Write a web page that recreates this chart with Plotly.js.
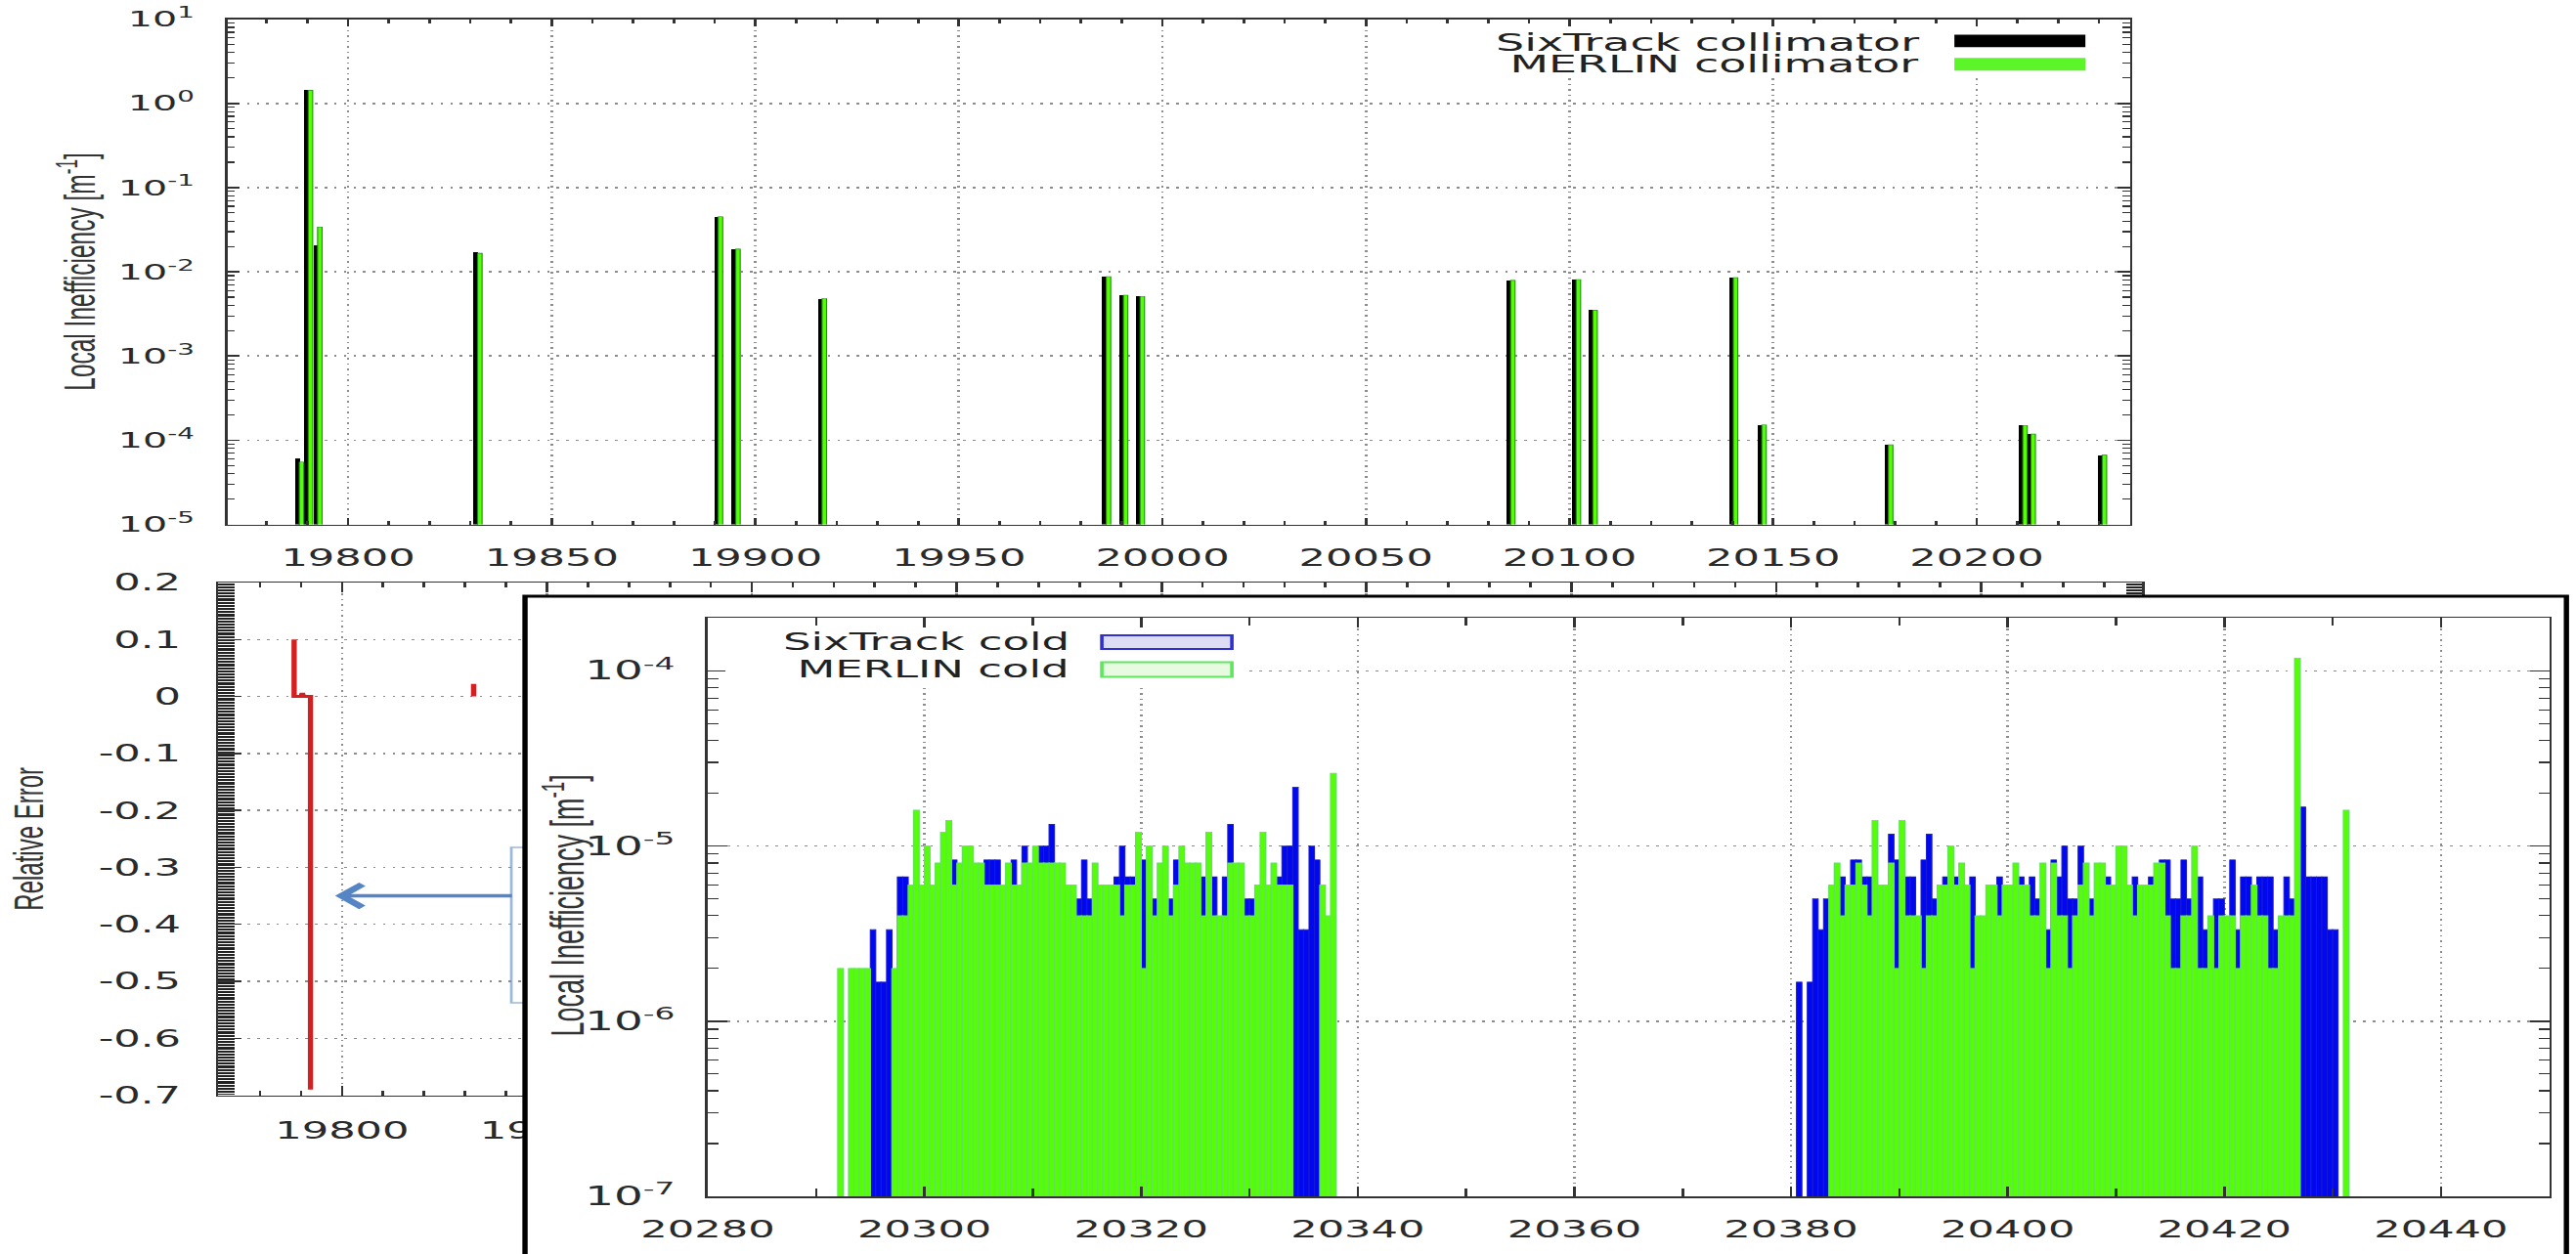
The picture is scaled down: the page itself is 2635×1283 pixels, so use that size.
<!DOCTYPE html>
<html>
<head>
<meta charset="utf-8">
<script src="https://cdn.plot.ly/plotly-3.0.1.min.js"></script>
<style>
html,body{margin:0;padding:0;background:#fff;overflow:hidden;}
#wrap{width:2635px;height:1283px;overflow:hidden;position:relative;background:#fff;}
#chart{width:1464px;height:1283px;transform:scaleX(1.8);transform-origin:0 0;}
</style>
</head>
<body>
<div id="wrap"><div id="chart"></div></div>
<script>
// ---------------- DATA ----------------
// Top panel: collimator local inefficiency (per collimator position, m)
const collimatorS = [19788.0, 19790.2, 19792.5, 19831.8, 19890.9, 19895.2, 19916.4, 19986.2, 19990.4, 19994.5,
                     20085.5, 20101.6, 20105.7, 20140.2, 20147.2, 20178.3, 20211.3, 20213.3, 20230.8];
const sixtrackCollimator = [6.1e-5, 1.43, 2.04e-2, 1.7e-2, 4.5e-2, 1.86e-2, 4.8e-3, 8.75e-3, 5.27e-3, 5.1e-3,
                            7.9e-3, 8.1e-3, 3.5e-3, 8.5e-3, 1.52e-4, 8.8e-5, 1.5e-4, 1.18e-4, 6.65e-5];
const merlinCollimator   = [5.5e-5, 1.43, 3.4e-2, 1.66e-2, 4.5e-2, 1.86e-2, 4.8e-3, 8.75e-3, 5.27e-3, 5.1e-3,
                            7.9e-3, 8.1e-3, 3.5e-3, 8.5e-3, 1.52e-4, 8.8e-5, 1.5e-4, 1.18e-4, 6.65e-5];

// Middle panel: relative error (steps)
const relErrS = [19788.3, 19788.3, 19790.0, 19790.3, 19790.6, 19792.3, 19792.3, null, 19832.1, 19832.1];
const relErr  = [0.1, 0, 0, 0.006, 0, 0, -0.69, null, 0, 0.022];

// Inset: cold losses, first cluster (bin centres, m)
const coldS1 = [
 20292.25, 20292.75, 20293.25, 20293.75, 20294.25, 20294.75, 20295.25, 20295.75, 20296.25, 20296.75,
 20297.25, 20297.75, 20298.25, 20298.75, 20299.25, 20299.75, 20300.25, 20300.75, 20301.25, 20301.75,
 20302.25, 20302.75, 20303.25, 20303.75, 20304.25, 20304.75, 20305.25, 20305.75, 20306.25, 20306.75,
 20307.25, 20307.75, 20308.25, 20308.75, 20309.25, 20309.75, 20310.25, 20310.75, 20311.25, 20311.75,
 20312.25, 20312.75, 20313.25, 20313.75, 20314.25, 20314.75, 20315.25, 20315.75, 20316.25, 20316.75,
 20317.25, 20317.75, 20318.25, 20318.75, 20319.25, 20319.75, 20320.25, 20320.75, 20321.25, 20321.75,
 20322.25, 20322.75, 20323.25, 20323.75, 20324.25, 20324.75, 20325.25, 20325.75, 20326.25, 20326.75,
 20327.25, 20327.75, 20328.25, 20328.75, 20329.25, 20329.75, 20330.25, 20330.75, 20331.25, 20331.75,
 20332.25, 20332.75, 20333.25, 20333.75, 20334.25, 20334.75, 20335.25, 20335.75, 20336.25, 20336.75,
 20337.25, 20337.75];
const merlinCold1 = [
 2e-6, null, 2e-6, 2e-6, 2e-6, 2e-6, null, null, null, null,
 2e-6, 4e-6, 4e-6, 6e-6, 16e-6, 6e-6, 10e-6, 6e-6, 8e-6, 12e-6,
 14e-6, 6e-6, 8e-6, 10e-6, 10e-6, 8e-6, 8e-6, 6e-6, 6e-6, 6e-6,
 6e-6, 8e-6, 6e-6, 6e-6, 8e-6, 8e-6, 10e-6, 8e-6, 8e-6, 8e-6,
 8e-6, 8e-6, 6e-6, 6e-6, 4e-6, 4e-6, 4e-6, 8e-6, 6e-6, 6e-6,
 6e-6, 6e-6, 4e-6, 6e-6, 6e-6, 12e-6, 2e-6, 10e-6, 4e-6, 8e-6,
 10e-6, 4e-6, 6e-6, 10e-6, 8e-6, 8e-6, 8e-6, 4e-6, 12e-6, 4e-6,
 4e-6, 4e-6, 8e-6, 8e-6, 8e-6, 4e-6, 4e-6, 6e-6, 12e-6, 6e-6,
 8e-6, 6e-6, 6e-6, 6e-6, null, null, null, null, null, 6e-6,
 4e-6, 26e-6];
const sixtrackCold1 = [
 null, null, null, null, null, null, 3.33e-6, 1.67e-6, 1.67e-6, 3.33e-6,
 null, 6.67e-6, 6.67e-6, null, null, null, null, null, null, null,
 null, 8.33e-6, null, null, null, null, null, 8.33e-6, 8.33e-6, 8.33e-6,
 null, null, 8.33e-6, null, 10e-6, null, null, 10e-6, 10e-6, 13.3e-6,
 null, null, null, null, 5e-6, 8.33e-6, 5e-6, null, null, null,
 null, 6.67e-6, 10e-6, 6.67e-6, 6.67e-6, null, 8.33e-6, null, 5e-6, null,
 null, 5e-6, 8.33e-6, null, null, null, null, 6.67e-6, null, 6.67e-6,
 null, 6.67e-6, 13.3e-6, null, null, 5e-6, 5e-6, null, null, null,
 null, 6.67e-6, 10e-6, 10e-6, 21.7e-6, 3.33e-6, 3.33e-6, 10e-6, 8.33e-6, null,
 null, null];

// Inset: cold losses, second cluster
const coldS2 = [
 20380.75, 20381.25, 20381.75, 20382.25, 20382.75, 20383.25, 20383.75, 20384.25, 20384.75, 20385.25,
 20385.75, 20386.25, 20386.75, 20387.25, 20387.75, 20388.25, 20388.75, 20389.25, 20389.75, 20390.25,
 20390.75, 20391.25, 20391.75, 20392.25, 20392.75, 20393.25, 20393.75, 20394.25, 20394.75, 20395.25,
 20395.75, 20396.25, 20396.75, 20397.25, 20397.75, 20398.25, 20398.75, 20399.25, 20399.75, 20400.25,
 20400.75, 20401.25, 20401.75, 20402.25, 20402.75, 20403.25, 20403.75, 20404.25, 20404.75, 20405.25,
 20405.75, 20406.25, 20406.75, 20407.25, 20407.75, 20408.25, 20408.75, 20409.25, 20409.75, 20410.25,
 20410.75, 20411.25, 20411.75, 20412.25, 20412.75, 20413.25, 20413.75, 20414.25, 20414.75, 20415.25,
 20415.75, 20416.25, 20416.75, 20417.25, 20417.75, 20418.25, 20418.75, 20419.25, 20419.75, 20420.25,
 20420.75, 20421.25, 20421.75, 20422.25, 20422.75, 20423.25, 20423.75, 20424.25, 20424.75, 20425.25,
 20425.75, 20426.25, 20426.75, 20427.25, 20427.75, 20428.25, 20428.75, 20429.25, 20429.75, 20430.25,
 20430.75, 20431.25];
const merlinCold2 = [
 null, null, null, null, null, null, 6e-6, 8e-6, 4e-6, 6e-6,
 6e-6, 8e-6, 6e-6, 4e-6, 14e-6, 6e-6, 6e-6, 8e-6, 2e-6, 14e-6,
 4e-6, 4e-6, 4e-6, 2e-6, 4e-6, 4e-6, 6e-6, 6e-6, 10e-6, 6e-6,
 8e-6, 6e-6, 2e-6, 4e-6, 4e-6, 6e-6, 6e-6, 4e-6, 6e-6, 6e-6,
 8e-6, 6e-6, 6e-6, 4e-6, 4e-6, 8e-6, 2e-6, 8e-6, 4e-6, 4e-6,
 2e-6, 4e-6, 6e-6, 8e-6, 4e-6, 8e-6, 8e-6, 6e-6, 6e-6, 10e-6,
 10e-6, 6e-6, 4e-6, 6e-6, 6e-6, 6e-6, 8e-6, 8e-6, 4e-6, 2e-6,
 2e-6, 4e-6, 4e-6, 10e-6, 2e-6, 2e-6, 4e-6, 2e-6, 4e-6, 4e-6,
 4e-6, 2e-6, 4e-6, 4e-6, 6e-6, 4e-6, 4e-6, 2e-6, 2e-6, 4e-6,
 4e-6, 4e-6, 118e-6, null, null, null, null, null, null, null,
 null, 16e-6];
const sixtrackCold2 = [
 1.67e-6, null, 1.67e-6, 5e-6, 3.33e-6, 5e-6, null, null, 6.67e-6, null,
 8.33e-6, 8.33e-6, 6.67e-6, 6.67e-6, null, null, null, 11.7e-6, 8.33e-6, null,
 6.67e-6, 6.67e-6, null, 8.33e-6, 11.7e-6, 5e-6, null, 6.67e-6, null, 6.67e-6,
 null, null, 6.67e-6, null, null, null, null, 6.67e-6, null, null,
 null, 6.67e-6, null, 6.67e-6, 5e-6, null, 3.33e-6, 8.33e-6, 6.67e-6, 10e-6,
 5e-6, 5e-6, 10e-6, null, 5e-6, null, null, 6.67e-6, null, null,
 null, null, 6.67e-6, null, null, 6.67e-6, null, 8.33e-6, 8.33e-6, 5e-6,
 5e-6, 8.33e-6, 5e-6, null, 6.67e-6, 3.33e-6, null, 5e-6, 5e-6, null,
 8.33e-6, 3.33e-6, 6.67e-6, 6.67e-6, null, 6.67e-6, 6.67e-6, 6.67e-6, 3.33e-6, null,
 6.67e-6, 5e-6, null, 16.7e-6, 6.67e-6, 6.67e-6, 6.67e-6, 6.67e-6, 3.33e-6, 3.33e-6,
 null, null];

// Tick labels
const topDecades = [1e-5, 1e-4, 1e-3, 1e-2, 1e-1, 1, 10];
const topDecadeLabels = ['10<sup>-5</sup>','10<sup>-4</sup>','10<sup>-3</sup>','10<sup>-2</sup>','10<sup>-1</sup>','10<sup>0</sup>','10<sup>1</sup>'];
const relErrTicks = [0.2, 0.1, 0, -0.1, -0.2, -0.3, -0.4, -0.5, -0.6, -0.7];
const relErrLabels = ['0.2','0.1','0','-0.1','-0.2','-0.3','-0.4','-0.5','-0.6','-0.7'];
const insetDecades = [1e-7, 1e-6, 1e-5, 1e-4];
const insetDecadeLabels = ['10<sup>-7</sup>','10<sup>-6</sup>','10<sup>-5</sup>','10<sup>-4</sup>'];

const names = {
  sixColl: 'SixTrack collimator', merColl: 'MERLIN collimator',
  sixCold: 'SixTrack cold', merCold: 'MERLIN cold'
};

// ---------------- LAYOUT HELPERS ----------------
const W = 2635, H = 1283;
const fx = p => p / W;
const fy = p => 1 - p / H;

const tickFont = {family: 'DejaVu Sans, sans-serif', size: 24, color: '#2a2a2a'};
const base = {
  showline: true, linecolor: '#333', linewidth: 1.5, mirror: 'ticks',
  ticks: 'inside', tickcolor: '#333', tickwidth: 1.5,
  showgrid: true, gridcolor: '#8c8c8c', griddash: '1.5px,4px', gridwidth: 1.5,
  zeroline: false, tickfont: tickFont, automargin: false, layer: 'above traces'
};

const GREEN = '#55ff00', GREEN_LINE = '#5fe35f', BLUE = '#0008f0', BLUE_LINE = '#1a1ad0';

const data = [
  {type: 'bar', name: names.sixColl, x: collimatorS, y: sixtrackCollimator, xaxis: 'x', yaxis: 'y',
   width: 1.1, offset: -1.0, marker: {color: '#000', line: {width: 0}}, showlegend: false},
  {type: 'bar', name: names.merColl, x: collimatorS, y: merlinCollimator, xaxis: 'x', yaxis: 'y',
   width: 1.1, offset: 0, marker: {color: GREEN, line: {width: 0.6, color: '#1a8a1a'}}, showlegend: false},
  {type: 'scatter', mode: 'lines', x: relErrS, y: relErr, xaxis: 'x2', yaxis: 'y2',
   line: {color: '#d42020', width: 3}, showlegend: false, hoverinfo: 'skip'},
  {type: 'scatter', mode: 'markers', x: [], y: [], xaxis: 'x3', yaxis: 'y3', showlegend: false, hoverinfo: 'skip'},
  {type: 'bar', name: names.sixCold, x: coldS1.concat(coldS2), y: sixtrackCold1.concat(sixtrackCold2),
   xaxis: 'x4', yaxis: 'y4', width: 0.5, marker: {color: BLUE, line: {width: 0.6, color: BLUE_LINE}}, showlegend: false},
  {type: 'bar', name: names.merCold, x: coldS1.concat(coldS2), y: merlinCold1.concat(merlinCold2),
   xaxis: 'x4', yaxis: 'y4', width: 0.5, marker: {color: GREEN, line: {width: 0.8, color: GREEN_LINE}}, showlegend: false}
];

const legendFont = {family: 'DejaVu Sans, sans-serif', size: 25.5, color: '#222'};

const layout = {
  width: 1464, height: 1283,
  margin: {l: 0, r: 0, t: 0, b: 0, pad: 0, autoexpand: false},
  paper_bgcolor: '#fff', plot_bgcolor: '#fff',
  barmode: 'overlay', bargap: 0, showlegend: false,
  xaxis: Object.assign({}, base, {
    domain: [fx(232.8), fx(2178.5)], anchor: 'y', range: [19770.4, 20237.6],
    tickmode: 'linear', tick0: 19800, dtick: 50, tickformat: 'd', ticklen: 7, ticklabelstandoff: 12,
    minor: {tickmode: 'linear', tick0: 0, dtick: 10, ticks: 'inside', ticklen: 4, tickwidth: 1.5, tickcolor: '#333', showgrid: false}
  }),
  yaxis: Object.assign({}, base, {
    domain: [fy(536.5), fy(19.6)], anchor: 'x', type: 'log', range: [-5, 1],
    tickmode: 'array', tickvals: topDecades, ticktext: topDecadeLabels, ticklen: 7, ticklabelstandoff: 13,
    tickfont: Object.assign({}, tickFont, {size: 22}),
    minor: {tickmode: 'linear', dtick: 'D1', ticks: 'inside', ticklen: 4, tickwidth: 1.2, tickcolor: '#333', showgrid: false}
  }),
  xaxis2: Object.assign({}, base, {
    domain: [fx(223.3), fx(2191)], anchor: 'y2', range: [19769.8, 20239.3],
    tickmode: 'linear', tick0: 19800, dtick: 50, tickformat: 'd', ticklen: 10, ticklabelstandoff: 14,
    minor: {tickmode: 'linear', tick0: 0, dtick: 10, ticks: 'inside', ticklen: 5, tickwidth: 1.5, tickcolor: '#333', showgrid: false}
  }),
  yaxis2: Object.assign({}, base, {
    domain: [fy(1120.6), fy(596)], anchor: 'x2', range: [-0.7, 0.2],
    tickmode: 'array', tickvals: relErrTicks, ticktext: relErrLabels, ticklen: 13, ticklabelstandoff: 15,
    minor: {tickmode: 'linear', tick0: 0, dtick: 0.0025, ticks: 'inside', ticklen: 9, tickwidth: 1, tickcolor: '#222', showgrid: false}
  }),
  xaxis3: {domain: [fx(537), fx(2625)], anchor: 'y3', visible: false, range: [0, 1], fixedrange: true},
  yaxis3: {domain: [0, fy(610)], anchor: 'x3', visible: false, range: [0, 1], fixedrange: true},
  xaxis4: Object.assign({}, base, {
    domain: [fx(724), fx(2607.5)], anchor: 'y4', range: [20280, 20450],
    tickmode: 'linear', tick0: 20280, dtick: 20, tickformat: 'd', ticklen: 10, ticklabelstandoff: 12,
    minor: {tickmode: 'linear', tick0: 20290, dtick: 20, ticks: 'inside', ticklen: 8, tickwidth: 1.5, tickcolor: '#333', showgrid: false}
  }),
  yaxis4: Object.assign({}, base, {
    domain: [fy(1224), fy(632.4)], anchor: 'x4', type: 'log', range: [-7, Math.log10(2e-4)],
    tickmode: 'array', tickvals: insetDecades, ticktext: insetDecadeLabels, ticklen: 11, ticklabelstandoff: 12,
    tickfont: Object.assign({}, tickFont, {size: 26}),
    minor: {tickmode: 'linear', dtick: 'D1', ticks: 'inside', ticklen: 6, tickwidth: 1.2, tickcolor: '#333', showgrid: false}
  }),
  shapes: [
    // bracket behind the inset (blue outline)
    {type: 'rect', xref: 'paper', yref: 'paper', x0: fx(523), x1: fx(570), y0: fy(1026), y1: fy(867),
     line: {color: '#9ab8dc', width: 1.5}, fillcolor: 'rgba(0,0,0,0)', layer: 'below'},
    // opaque legend backgrounds
    {type: 'rect', xref: 'paper', yref: 'paper', x0: fx(1500), x1: fx(2145), y0: fy(80), y1: fy(28),
     line: {width: 0}, fillcolor: '#fff', layer: 'above'},
    {type: 'rect', xref: 'paper', yref: 'paper', x0: fx(742), x1: fx(1275), y0: fy(700), y1: fy(643),
     line: {width: 0}, fillcolor: '#fff', layer: 'above'},
    // top legend swatches
    {type: 'rect', xref: 'paper', yref: 'paper', x0: fx(1999), x1: fx(2133), y0: fy(48.2), y1: fy(35.5),
     line: {width: 0}, fillcolor: '#000', layer: 'above'},
    {type: 'rect', xref: 'paper', yref: 'paper', x0: fx(1999), x1: fx(2133), y0: fy(72.3), y1: fy(59.2),
     line: {width: 0}, fillcolor: '#5cf52a', layer: 'above'},
    // inset legend swatches
    {type: 'rect', xref: 'paper', yref: 'paper', x0: fx(1127), x1: fx(1260), y0: fy(664), y1: fy(650),
     line: {width: 2, color: '#3030d0'}, fillcolor: '#dcdcf5', layer: 'above'},
    {type: 'rect', xref: 'paper', yref: 'paper', x0: fx(1127), x1: fx(1260), y0: fy(692.6), y1: fy(677.4),
     line: {width: 2, color: '#5ee65e'}, fillcolor: '#e6fbdf', layer: 'above'},
    // inset frame
    {type: 'rect', xref: 'paper', yref: 'paper', x0: fx(537), x1: fx(2625), y0: -0.02, y1: fy(610),
     line: {width: 3, color: '#000'}, fillcolor: 'rgba(0,0,0,0)', layer: 'above'}
  ],
  annotations: [
    {xref: 'paper', yref: 'paper', x: fx(1968), y: fy(42.5), xanchor: 'right', yanchor: 'middle', showarrow: false,
     text: names.sixColl, font: legendFont},
    {xref: 'paper', yref: 'paper', x: fx(1968), y: fy(65.5), xanchor: 'right', yanchor: 'middle', showarrow: false,
     text: names.merColl, font: legendFont},
    {xref: 'paper', yref: 'paper', x: fx(1098), y: fy(656), xanchor: 'right', yanchor: 'middle', showarrow: false,
     text: names.sixCold, font: Object.assign({}, legendFont, {size: 25})},
    {xref: 'paper', yref: 'paper', x: fx(1098), y: fy(684.5), xanchor: 'right', yanchor: 'middle', showarrow: false,
     text: names.merCold, font: Object.assign({}, legendFont, {size: 25})},
    {xref: 'paper', yref: 'paper', x: fx(77), y: fy(278), xanchor: 'center', yanchor: 'middle', showarrow: false,
     textangle: -90, text: 'Local Inefficiency [m<sup>-1</sup>]',
     font: {family: 'Liberation Sans, Arial, sans-serif', size: 24.5, color: '#333'}},
    {xref: 'paper', yref: 'paper', x: fx(30), y: fy(858), xanchor: 'center', yanchor: 'middle', showarrow: false,
     textangle: -90, text: 'Relative Error',
     font: {family: 'Liberation Sans, Arial, sans-serif', size: 24, color: '#333'}},
    {xref: 'paper', yref: 'paper', x: fx(577), y: fy(927), xanchor: 'center', yanchor: 'middle', showarrow: false,
     textangle: -90, text: 'Local Inefficiency [m<sup>-1</sup>]',
     font: {family: 'Liberation Sans, Arial, sans-serif', size: 27, color: '#333'}},
    {xref: 'x2', yref: 'y2', x: 19798.3, y: -0.35, ax: 102, ay: 0, axref: 'pixel', ayref: 'pixel',
     showarrow: true, arrowhead: 4, arrowsize: 1.3, arrowwidth: 3.5, arrowcolor: '#5585c5', text: '', standoff: 0}
  ]
};

Plotly.newPlot('chart', data, layout, {displayModeBar: false, staticPlot: true});
</script>
</body>
</html>
